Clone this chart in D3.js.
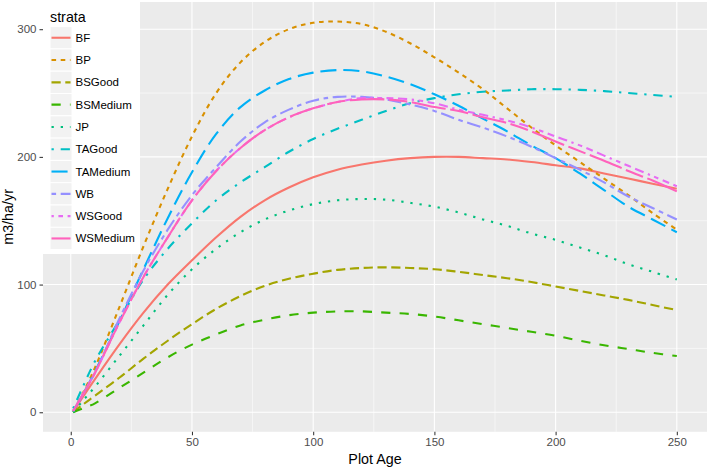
<!DOCTYPE html>
<html><head><meta charset="utf-8">
<script src="https://cdn.jsdelivr.net/npm/d3@7"></script>
<style>body{margin:0;background:#fff}svg{display:block;font-family:"Liberation Sans",Arial,Helvetica,sans-serif}</style>
</head><body><svg id="c" width="709" height="468"></svg>
<script>
// ---- data ----
const ages = [1,5,10,20,30,40,50,60,70,80,90,100,110,120,130,140,150,160,170,180,190,200,210,220,230,240,250];
const strata = ["BF","BP","BSGood","BSMedium","JP","TAGood","TAMedium","WB","WSGood","WSMedium"];
const BF       = [0,12,26,53,78,100,119,137,153,166,176,184,190,194,197,199,200,200,199,198,196,193.5,191,187,183,179,175];
const BP       = [1,15,35,82,130,175,216,250,274,290,300,305,306,304,298,289,278,266,253,238,223,209,196,183,170,156,143];
const BSGood   = [0,6,13,27,42,56,69,81,91,99,104.5,108.5,111.5,113,113.5,113,112,110,107.5,105,102,98.5,95,91.5,88,84,80];
const BSMedium = [0,3,7,19,31,43,53,61,68,72.5,76,78,79,79,78,77,75,72,69,66,63,60,56,52.5,49.5,46.5,44];
const JP       = [0,9,20,44,68,92,112,128,141,151,158,163,166,167,166.5,164,161,156.5,151,146,140,135,129,123,116,110,104];
const TAGood   = [3,20,40,72,104,128,148,166,180,192,204,214,222,229,236,242,246,249,251,252,253,253,252.5,251.5,250,248.5,247];
const TAMedium = [1,14,32,71,112,152,188,218,239,252,261,266,268,267,263,257,249,240,230,220,209,199,187,174,161,151,141];
const WB       = [1,14,31,73,111,143,170,192,212,227,237,244,247,247,245,241,236,229,223,216,208,199,190,180,169,160,151];
const WSGood   = [1,14,31,70,106,137,166,189,207,221,231,238,243,246,246,245,242,237,233,228.5,223,216,209,201,193,185,177];
const WSMedium = [1,14,31,70,106,137,166,189,207,221,231,238,243,245,245,243,239,236,231,226.5,220,212,204.5,197,189,181.5,173];
const xTicks = [0,50,100,150,200,250];
const yTicks = [0,100,200,300];
const xMinor = [25,75,125,175,225];
const yMinor = [50,150,250];
const seriesValues = [BF,BP,BSGood,BSMedium,JP,TAGood,TAMedium,WB,WSGood,WSMedium];

// ---- styles ----
const colors = ["#F8766D","#D89000","#A3A500","#39B600","#00BF7D","#00BFC4","#00B0F6","#9590FF","#E76BF3","#FF62BC"];
const ltys = [null,[2,2],[4,2],[4,4],[1,3],[1,3,4,3],[7,3],[2,2,6,2],[1,2,2,2,3,2,4,2],[15,2,8,2]];
const U = 2.3, LW = 2.1;
const dash = i => ltys[i] ? ltys[i].map(v=>v*U).join(",") : null;

const svg = d3.select("#c");
const P = {l:43, r:707, t:2, b:431.8};

const allY = seriesValues.flat();
const xr = d3.extent(ages), yr = [d3.min(allY), d3.max(allY)];
const xe = (xr[1]-xr[0])*0.05, ye = (yr[1]-yr[0])*0.05;
const x = d3.scaleLinear().domain([xr[0]-xe, xr[1]+xe]).range([P.l, P.r]);
const y = d3.scaleLinear().domain([yr[0]-ye, yr[1]+ye]).range([P.b, P.t]);

// panel
svg.append("rect").attr("x",P.l).attr("y",P.t).attr("width",P.r-P.l).attr("height",P.b-P.t).attr("fill","#EBEBEB");
const g = svg.append("g");
xMinor.forEach(v=>g.append("line").attr("x1",x(v)).attr("x2",x(v)).attr("y1",P.t).attr("y2",P.b).attr("stroke","#fff").attr("stroke-width",0.55));
yMinor.forEach(v=>g.append("line").attr("y1",y(v)).attr("y2",y(v)).attr("x1",P.l).attr("x2",P.r).attr("stroke","#fff").attr("stroke-width",0.55));
xTicks.forEach(v=>g.append("line").attr("x1",x(v)).attr("x2",x(v)).attr("y1",P.t).attr("y2",P.b).attr("stroke","#fff").attr("stroke-width",1.1));
yTicks.forEach(v=>g.append("line").attr("y1",y(v)).attr("y2",y(v)).attr("x1",P.l).attr("x2",P.r).attr("stroke","#fff").attr("stroke-width",1.1));

// lines
const line = d3.line().x((d,i)=>x(ages[i])).y(d=>y(d)).curve(d3.curveCatmullRom.alpha(0.5));
seriesValues.forEach((vals,i)=>{
  svg.append("path").attr("d",line(vals)).attr("fill","none").attr("stroke",colors[i])
    .attr("stroke-width",LW).attr("stroke-dasharray",dash(i)).attr("stroke-linecap","butt");
});

// axes
const ax = svg.append("g").attr("transform",`translate(0,${P.b})`)
  .call(d3.axisBottom(x).tickValues(xTicks).tickSize(3.5).tickPadding(3).tickFormat(d3.format("d")));
const ay = svg.append("g").attr("transform",`translate(${P.l},0)`)
  .call(d3.axisLeft(y).tickValues(yTicks).tickSize(3.5).tickPadding(3).tickFormat(d3.format("d")));
[ax,ay].forEach(a=>{
  a.select(".domain").remove();
  a.selectAll(".tick line").attr("stroke","#333").attr("stroke-width",1.05);
  a.selectAll(".tick text").attr("fill","#4D4D4D").style("font-size","11.5px").style("font-family",'"Liberation Sans",Arial,sans-serif');
});

svg.append("text").attr("x",(P.l+P.r)/2).attr("y",464).attr("text-anchor","middle")
  .style("font-size","14.3px").attr("fill","#000").text("Plot Age");
svg.append("text").attr("transform",`translate(13,${(P.t+P.b)/2}) rotate(-90)`).attr("text-anchor","middle")
  .style("font-size","14.3px").attr("fill","#000").text("m3/ha/yr");

// legend
const lg = svg.append("g");
lg.append("rect").attr("x",43).attr("y",2).attr("width",97).attr("height",252).attr("fill","#fff");
lg.append("text").attr("x",50).attr("y",22).style("font-size","14.3px").attr("fill","#000").text("strata");
const kh = 22.3, k0 = 26.6;
strata.forEach((s,i)=>{
  const yy = k0 + i*kh;
  lg.append("rect").attr("x",50).attr("y",yy).attr("width",22).attr("height",kh).attr("fill","#F2F2F2").attr("stroke","#fff").attr("stroke-width",1);
  lg.append("line").attr("x1",51.5).attr("x2",70.5).attr("y1",yy+kh/2).attr("y2",yy+kh/2)
    .attr("stroke",colors[i]).attr("stroke-width",LW).attr("stroke-dasharray",dash(i));
  lg.append("text").attr("x",75.5).attr("y",yy+kh/2).attr("dy","0.35em").style("font-size","11.5px").attr("fill","#000").text(s);
});
</script></body></html>
